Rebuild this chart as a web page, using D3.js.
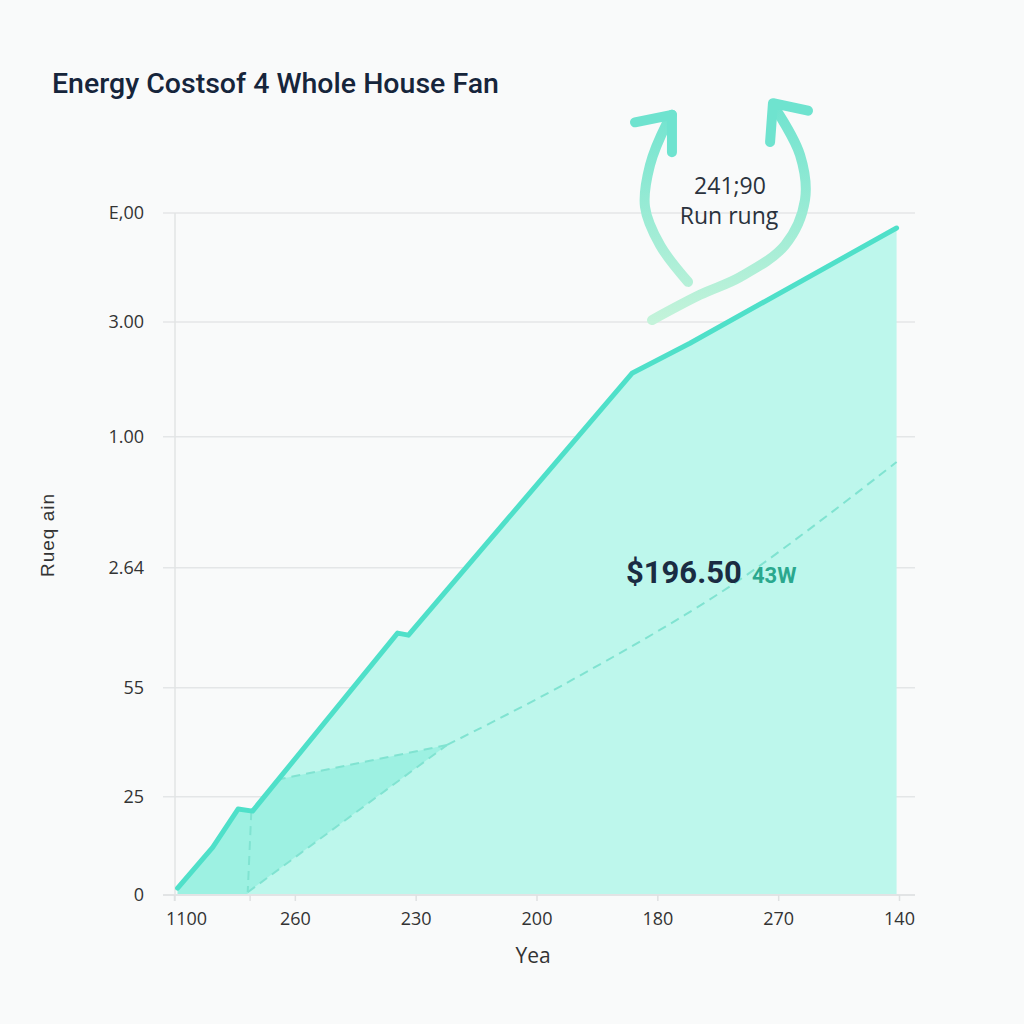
<!DOCTYPE html>
<html><head><meta charset="utf-8">
<script src="https://cdn.jsdelivr.net/npm/d3@7"></script>
<style>
html,body{margin:0;padding:0;background:#f9fafa;}
svg{display:block;}
</style></head>
<body>
<script>
// ---- data ----
const title = "Energy Costsof 4 Whole House Fan";
const xTickLabels = ["1100","260","230","200","180","270","140"];
const xTickValues = [0,1,2,3,4,5,6];
const yTickLabels = ["0","25","55","2.64","1.00","3.00","E,00"];
const yTickValues = [0,14.4,30.4,48,67.2,84,100];
const xAxisTitle = "Yea";
const yAxisTitle = "Rueq ain";

const costX = [0.03,0.32,0.53,0.65,1.85,1.94,3.79,4.27,5.98];
const costY = [1.0,7.0,12.6,12.3,38.4,38.1,76.5,80.9,97.8];

const shadeX = [0.03,0.32,0.53,0.65,0.85,2.26,0.61,0.61,0.03];
const shadeY = [1.0,7.0,12.6,12.3,16.9,22.0,0.4,0,0];

const dashA_X = [0.64,0.61], dashA_Y = [12.3,0.4];
const dashB_X = [0.61,2.26], dashB_Y = [0.4,22.0];
const dashC_X = [0.85,2.26], dashC_Y = [16.9,22.0];
const dashD_X = [2.26,3.25,4.63,5.98], dashD_Y = [22.0,31.1,45.6,63.5];

const arrowL_X = [4.254,4.022,3.898,3.939,4.080,4.121];
const arrowL_Y = [89.9,95.3,100.9,107.0,113.2,114.4];
const headL_X = [3.815,4.121,4.121], headL_Y = [113.3,114.4,108.9];
const arrowR_X = [3.956,4.353,4.684,5.057,5.222,5.181,4.974];
const arrowR_Y = [84.3,88.0,90.6,95.3,101.9,108.5,115.4];
const headR_X = [5.247,4.957,4.933], headR_Y = [115.0,116.1,110.4];

const annoValue = "241;90", annoLabel = "Run rung";
const costLabel = "$196.50", wattLabel = "43W";

// ---- chart ----
const W = 1024, H = 1024;
const svg = d3.select("body").append("svg").attr("width", W).attr("height", H);
const x = d3.scaleLinear().domain([0,6]).range([174,899]);
const y = d3.scaleLinear().domain([0,100]).range([895,213]);
const zip = (xs, ys) => xs.map((v,i)=>[v, ys[i]]);

const defs = svg.append("defs");
const grad = defs.append("linearGradient").attr("id","arrowGrad")
  .attr("gradientUnits","userSpaceOnUse")
  .attr("x1",0).attr("y1",y(84)).attr("x2",0).attr("y2",y(116));
grad.append("stop").attr("offset","0%").attr("stop-color","#c4f3da");
grad.append("stop").attr("offset","100%").attr("stop-color","#6fe3cf");

// title
svg.append("text").attr("x",52).attr("y",93).text(title)
  .attr("font-family","Roboto, 'Noto Sans', sans-serif").attr("font-weight",500)
  .attr("font-size",28.5).attr("fill","#16253b");

// gridlines
svg.append("g").selectAll("line").data(yTickValues).join("line")
  .attr("x1",163).attr("x2",915).attr("y1",d=>y(d)).attr("y2",d=>y(d))
  .attr("stroke","#e4e6e7").attr("stroke-width",1.5);
// left axis line
svg.append("line").attr("x1",175).attr("x2",175).attr("y1",y(100)).attr("y2",y(0)+6)
  .attr("stroke","#e2e4e5").attr("stroke-width",1.5);

// area
const lineGen = d3.line().x(d=>x(d[0])).y(d=>y(d[1]));
const areaGen = d3.area().x(d=>x(d[0])).y0(y(0)).y1(d=>y(d[1]));
const cost = zip(costX,costY);
svg.append("path").datum(cost).attr("d",areaGen).attr("fill","#bdf7ec");
svg.append("path").datum(zip(shadeX,shadeY)).attr("d",d=>lineGen(d)+"Z").attr("fill","#98f0e0").attr("opacity",0.85);

// dashed lines
[[dashA_X,dashA_Y],[dashB_X,dashB_Y],[dashC_X,dashC_Y]].forEach(([xs,ys])=>{
  svg.append("path").datum(zip(xs,ys)).attr("d",lineGen).attr("fill","none")
    .attr("stroke","#80e3d1").attr("stroke-width",2).attr("stroke-dasharray","9,6");
});
svg.append("path").datum(zip(dashD_X,dashD_Y)).attr("d",d3.line().x(d=>x(d[0])).y(d=>y(d[1])).curve(d3.curveCatmullRom))
  .attr("fill","none").attr("stroke","#80e3d1").attr("stroke-width",2).attr("stroke-dasharray","9,6");

// main line
svg.append("path").datum(cost).attr("d",lineGen).attr("fill","none")
  .attr("stroke","#4fe0c9").attr("stroke-width",5).attr("stroke-linejoin","round").attr("stroke-linecap","round");

// bottom axis
const xAxis = d3.axisBottom(x).tickValues(xTickValues).tickFormat((d,i)=>xTickLabels[i]).tickSize(6).tickPadding(8);
const gx = svg.append("g").attr("transform",`translate(0,${y(0)})`).call(xAxis);
gx.select(".domain").attr("d",`M163,0H915`).attr("stroke","#e2e4e5").attr("stroke-width",2);
gx.selectAll(".tick line").attr("stroke","#dfe1e2").attr("stroke-width",1.5);
gx.append("line").attr("x1",x(0.63)).attr("x2",x(0.63)).attr("y1",0).attr("y2",6).attr("stroke","#dfe1e2").attr("stroke-width",1.5);
gx.selectAll(".tick text").attr("font-family","'Open Sans', sans-serif").attr("font-size",18).attr("fill","#333").attr("dy","0.9em");
gx.selectAll(".tick text").attr("x",(d,i)=> i===0?12:0);

// left axis labels
const yAxis = d3.axisLeft(y).tickValues(yTickValues).tickFormat((d,i)=>yTickLabels[i]).tickSize(0).tickPadding(33);
const gy = svg.append("g").attr("transform",`translate(177,0)`).call(yAxis);
gy.select(".domain").remove();
gy.selectAll(".tick text").attr("font-family","'Open Sans', sans-serif").attr("font-size",18).attr("fill","#333");

// axis titles
svg.append("text").attr("x",533).attr("y",963).attr("text-anchor","middle").text(xAxisTitle)
  .attr("font-family","'Open Sans', sans-serif").attr("font-size",21).attr("fill","#333");
svg.append("text").attr("transform","translate(54,535) rotate(-90)").attr("text-anchor","middle").text(yAxisTitle)
  .attr("font-family","'Liberation Sans', sans-serif").attr("font-size",19).attr("letter-spacing",1).attr("fill","#333");

// arrows
const curveLine = d3.line().x(d=>x(d[0])).y(d=>y(d[1])).curve(d3.curveCatmullRom);
const straight = d3.line().x(d=>x(d[0])).y(d=>y(d[1]));
[[arrowL_X,arrowL_Y,headL_X,headL_Y],[arrowR_X,arrowR_Y,headR_X,headR_Y]].forEach(([ax,ay,hx,hy])=>{
  svg.append("path").datum(zip(ax,ay)).attr("d",curveLine).attr("fill","none")
    .attr("stroke","url(#arrowGrad)").attr("stroke-width",10).attr("stroke-linecap","round");
  svg.append("path").datum(zip(hx,hy)).attr("d",straight).attr("fill","none")
    .attr("stroke","#6fe3cf").attr("stroke-width",10).attr("stroke-linecap","round").attr("stroke-linejoin","round");
});

// annotations
svg.append("text").attr("x",730).attr("y",194).attr("text-anchor","middle").text(annoValue)
  .attr("font-family","'Open Sans', sans-serif").attr("font-size",23).attr("fill","#2a323d");
svg.append("text").attr("x",729).attr("y",224).attr("text-anchor","middle").text(annoLabel)
  .attr("font-family","'Open Sans', sans-serif").attr("font-size",23).attr("fill","#2a323d");
svg.append("text").attr("x",626).attr("y",583).text(costLabel)
  .attr("font-family","Roboto, sans-serif").attr("font-weight",700).attr("font-size",31).attr("fill","#1a2c42");
svg.append("text").attr("x",752).attr("y",583).text(wattLabel)
  .attr("font-family","Roboto, sans-serif").attr("font-weight",700).attr("font-size",22).attr("fill","#2aa88e");
</script>
</body></html>
